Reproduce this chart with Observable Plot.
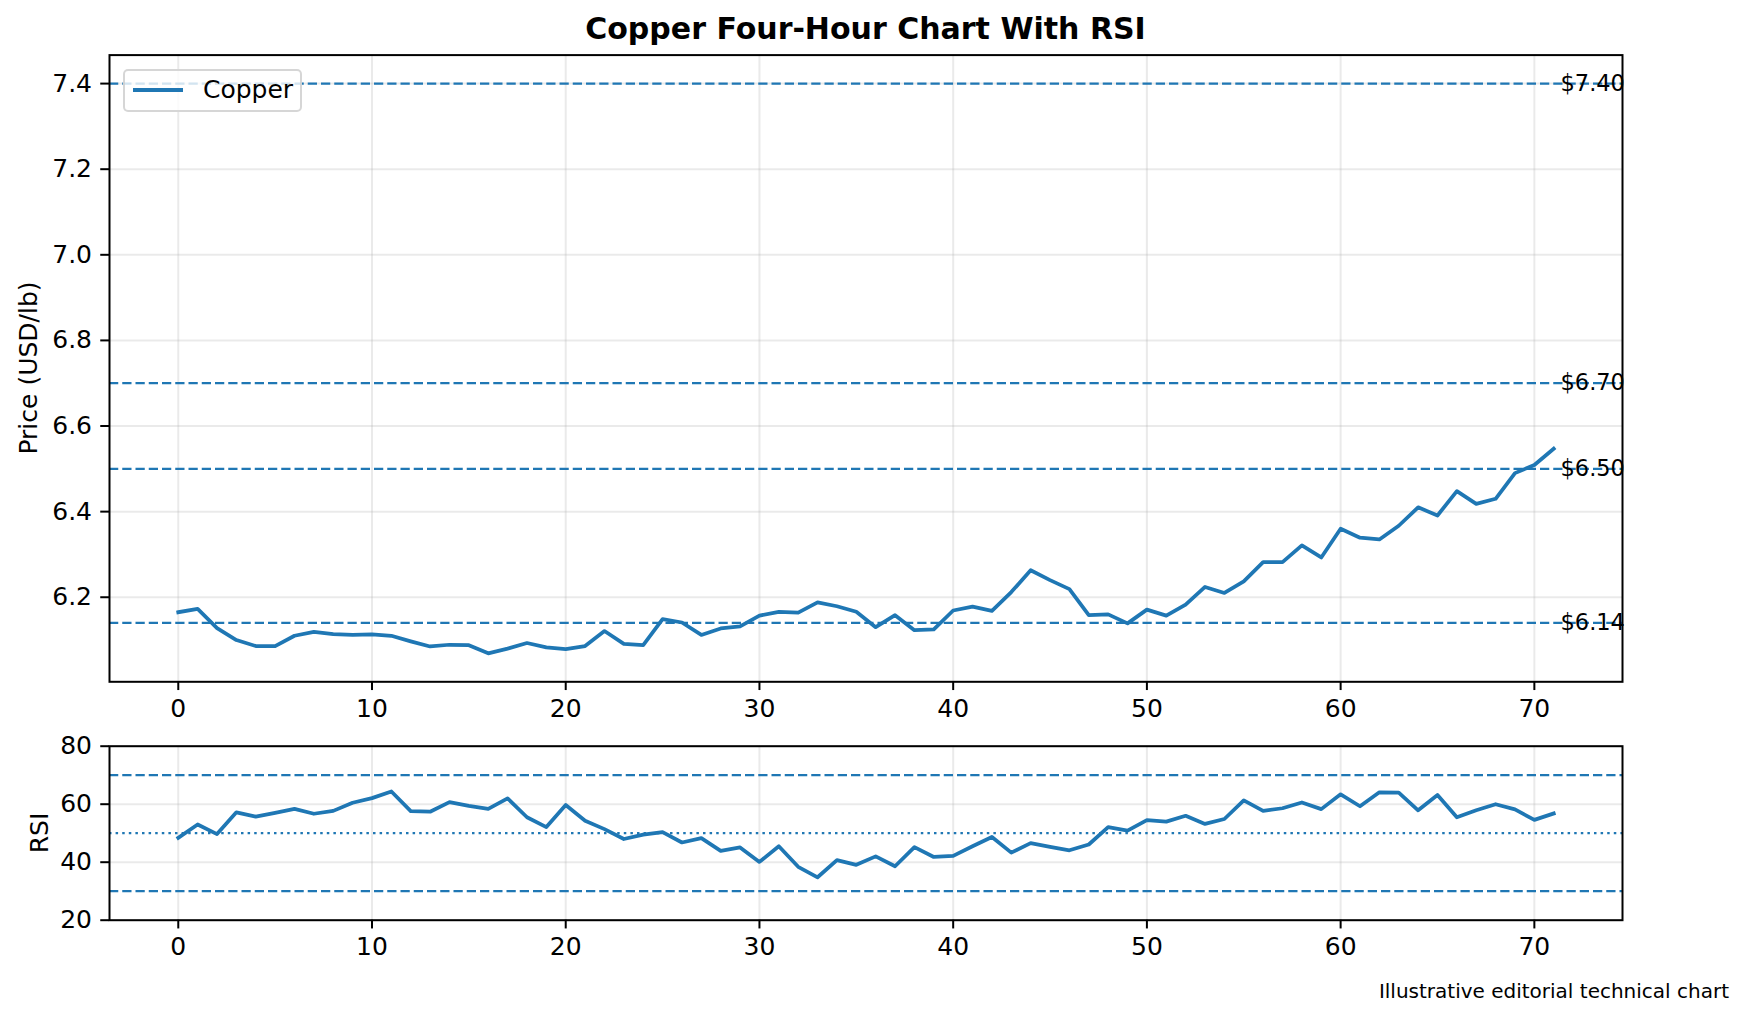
<!DOCTYPE html>
<html>
<head>
<meta charset="utf-8">
<script src="https://cdn.jsdelivr.net/npm/d3@7"></script>
<script src="https://cdn.jsdelivr.net/npm/@observablehq/plot@0.6"></script>
<style>
  html, body { margin: 0; padding: 0; background: white; }
  #wrap { position: relative; width: 1747px; height: 1017px; font-family: "DejaVu Sans", sans-serif; color: black; overflow: hidden; }
  #wrap svg { overflow: visible; background: transparent; }
  .abs { position: absolute; white-space: nowrap; }
</style>
</head>
<body>
<div id="wrap"></div>
<script>
// ---- data ----
const price = [6.165, 6.173, 6.128, 6.100, 6.086, 6.086, 6.110, 6.119, 6.114, 6.112,
  6.113, 6.110, 6.097, 6.085, 6.089, 6.088, 6.069, 6.080, 6.093, 6.083,
  6.079, 6.086, 6.121, 6.091, 6.088, 6.149, 6.141, 6.112, 6.127, 6.132,
  6.157, 6.166, 6.164, 6.188, 6.179, 6.166, 6.130, 6.158, 6.123, 6.125,
  6.169, 6.178, 6.168, 6.212, 6.263, 6.240, 6.219, 6.158, 6.160, 6.139,
  6.171, 6.157, 6.183, 6.224, 6.210, 6.237, 6.282, 6.282, 6.321, 6.293,
  6.360, 6.339, 6.335, 6.367, 6.410, 6.391, 6.448, 6.418, 6.430, 6.490, 6.509, 6.547];
const rsi = [48.4, 53.0, 49.7, 57.2, 55.7, 57.0, 58.4, 56.7, 57.7, 60.5,
  62.1, 64.4, 57.6, 57.4, 60.7, 59.4, 58.4, 62.0, 55.5, 52.1,
  59.7, 54.3, 51.4, 48.0, 49.5, 50.4, 46.8, 48.3, 43.9, 45.1,
  40.1, 45.5, 38.4, 34.8, 40.7, 39.1, 42.0, 38.6, 45.2, 41.8,
  42.2, 45.5, 48.7, 43.3, 46.6, 45.3, 44.1, 46.1, 52.1, 50.9,
  54.5, 54.0, 56.0, 53.2, 54.9, 61.3, 57.7, 58.6, 60.6, 58.3,
  63.4, 59.3, 64.1, 64.0, 57.9, 63.2, 55.5, 57.9, 60.0, 58.2, 54.6, 56.8];
const priceLevels = [7.40, 6.70, 6.50, 6.14];
const rsiBands = [70, 30];
const rsiMid = [50];
const xTicks = [0, 10, 20, 30, 40, 50, 60, 70];
const priceTicks = [6.2, 6.4, 6.6, 6.8, 7.0, 7.2, 7.4];
const rsiTicks = [20, 40, 60, 80];
const titleText = "Copper Four-Hour Chart With RSI";
const priceLabel = "Price (USD/lb)";
const rsiLabel = "RSI";
const seriesName = "Copper";
const captionText = "Illustrative editorial technical chart";

// ---- layout ----
const W = 1747;
const C = "#1f77b4";
const n = price.length;
const xPad = (n - 1) * 0.05;
const xDomain = [-xPad, n - 1 + xPad];
const allP = price.concat(priceLevels);
const pLo = d3.min(allP), pHi = d3.max(allP), pPad = (pHi - pLo) * 0.05;
const pDomain = [pLo - pPad, pHi + pPad];

const gridStyle = {stroke: "#b0b0b0", strokeOpacity: 0.27, strokeWidth: 2};
const axisStyle = {tickSize: 8.75, tickPadding: 8.75, fontSize: 25, strokeWidth: 2, stroke: "black", fill: "black", label: null};

const wrap = document.getElementById("wrap");

const topPlot = Plot.plot({
  width: W, height: 730,
  marginLeft: 109, marginRight: W - 1622, marginTop: 54.6, marginBottom: 730 - 681.3,
  style: {fontFamily: "DejaVu Sans", fontSize: "25px", background: "transparent", overflow: "visible"},
  x: {domain: xDomain},
  y: {domain: pDomain},
  marks: [
    Plot.gridX(xTicks, gridStyle),
    Plot.gridY(priceTicks, gridStyle),
    Plot.ruleY(priceLevels, {stroke: C, strokeWidth: 2.2, strokeDasharray: "9.25 4"}),
    Plot.lineY(price, {stroke: C, strokeWidth: 3.75, strokeLinejoin: "round", strokeLinecap: "square"}),
    Plot.text(priceLevels, {x: () => n - 0.65, y: d => d, text: d => "$" + d.toFixed(2), textAnchor: "start", lineAnchor: "middle", fontSize: 22.5, fill: "black"}),
    Plot.axisX(xTicks, {...axisStyle, tickFormat: d3.format("d")}),
    Plot.axisY(priceTicks, {...axisStyle, tickFormat: d3.format(".1f")}),
    Plot.frame({stroke: "black", strokeWidth: 2})
  ]
});
topPlot.style.position = "absolute"; topPlot.style.left = "0px"; topPlot.style.top = "0px";
wrap.appendChild(topPlot);

const bottomPlot = Plot.plot({
  width: W, height: 250,
  marginLeft: 109, marginRight: W - 1622, marginTop: 745.7 - 730, marginBottom: 980 - 919.7,
  style: {fontFamily: "DejaVu Sans", fontSize: "25px", background: "transparent", overflow: "visible"},
  x: {domain: xDomain},
  y: {domain: [20, 80]},
  marks: [
    Plot.gridX(xTicks, gridStyle),
    Plot.gridY(rsiTicks, gridStyle),
    Plot.ruleY(rsiBands, {stroke: C, strokeWidth: 2.2, strokeDasharray: "9.25 4"}),
    Plot.ruleY(rsiMid, {stroke: C, strokeWidth: 2.2, strokeDasharray: "2.5 4.1"}),
    Plot.lineY(rsi, {stroke: C, strokeWidth: 3.75, strokeLinejoin: "round", strokeLinecap: "square"}),
    Plot.axisX(xTicks, {...axisStyle, tickFormat: d3.format("d")}),
    Plot.axisY(rsiTicks, {...axisStyle, tickFormat: d3.format("d")}),
    Plot.frame({stroke: "black", strokeWidth: 2})
  ]
});
bottomPlot.style.position = "absolute"; bottomPlot.style.left = "0px"; bottomPlot.style.top = "730px";
wrap.appendChild(bottomPlot);

// ---- title, labels, legend, caption ----
function addDiv(text, css) {
  const d = document.createElement("div");
  d.className = "abs";
  d.textContent = text;
  Object.assign(d.style, css);
  wrap.appendChild(d);
  return d;
}
addDiv(titleText, {left: "865.5px", top: "14px", transform: "translateX(-50%)", fontSize: "30px", lineHeight: "30px", fontWeight: "bold"});
addDiv(priceLabel, {left: "28px", top: "368px", transform: "translate(-50%,-50%) rotate(-90deg)", fontSize: "25px", lineHeight: "25px"});
addDiv(rsiLabel, {left: "39px", top: "832.7px", transform: "translate(-50%,-50%) rotate(-90deg)", fontSize: "25px", lineHeight: "25px"});
addDiv(captionText, {right: "18px", top: "981px", fontSize: "20px", lineHeight: "20px"});

const leg = document.createElement("div");
leg.className = "abs";
Object.assign(leg.style, {left: "123px", top: "69px", width: "175px", height: "39px", border: "2px solid rgba(204,204,204,0.8)", borderRadius: "5px", background: "rgba(255,255,255,0.8)"});
const sw = document.createElement("div");
Object.assign(sw.style, {position: "absolute", left: "8px", top: "17px", width: "50px", height: "3.75px", background: C});
leg.appendChild(sw);
const lt = document.createElement("div");
lt.textContent = seriesName;
Object.assign(lt.style, {position: "absolute", left: "78px", top: "5px", fontSize: "25px", lineHeight: "28px"});
leg.appendChild(lt);
wrap.appendChild(leg);
</script>
</body>
</html>
